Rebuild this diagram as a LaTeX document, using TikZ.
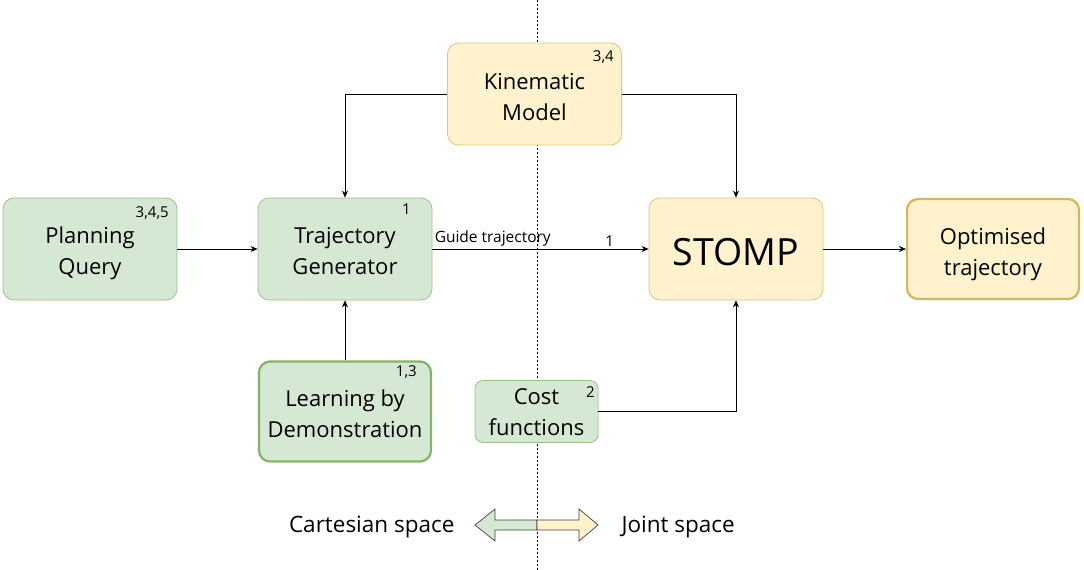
\documentclass[tikz,border=0pt]{standalone}
\usepackage{fontspec}
\setmainfont{Open Sans}
\usetikzlibrary{arrows.meta}
\definecolor{gfill}{HTML}{D5E8D4}
\definecolor{gline}{HTML}{82B366}
\definecolor{yfill}{HTML}{FFF2CC}
\definecolor{yline}{HTML}{D6B656}
\newcommand{\boxtext}[2][-4pt]{\raisebox{#1}[\height][\depth]{\begin{tabular}{@{}c@{}}#2\end{tabular}}}
\tikzset{
  box/.style={draw, rounded corners=11pt, minimum width=174pt, minimum height=102pt, align=center, inner sep=0pt, font=\fontsize{22}{31}\selectfont, line width=0.8pt},
  gbox/.style={box, fill=gfill, draw=gline!80},
  ybox/.style={box, fill=yfill, draw=yline!80},
  tag/.style={font=\fontsize{15}{17}\selectfont, inner sep=0pt},
  conn/.style={draw, line width=0.7pt, -{Stealth[length=7pt,width=6pt]}},
  spacearrow/.style={draw=black!75, line width=0.7pt, line join=miter},
  spacelabel/.style={font=\fontsize{22.5}{26}\selectfont},
}
\begin{document}
\begin{tikzpicture}[x=1pt,y=-1pt]
\useasboundingbox (0,0) rectangle (1084,570);
\draw[dash pattern=on 2pt off 2pt, line width=0.9pt] (537,0) -- (537,570);
\node[gbox] (pq) at (90,249) {\boxtext{Planning\\Query}};
\node[gbox] (tg) at (345,249) {\boxtext{Trajectory\\Generator}};
\node[ybox] (km) at (534.5,94) {\boxtext[-4.5pt]{Kinematic\\Model}};
\node[ybox, font=\fontsize{37.5}{40}\selectfont] (st) at (736,249) {\raisebox{-3pt}[\height][\depth]{STOMP}};
\node[ybox, line width=2.2pt, draw=yline, minimum width=172pt, minimum height=100pt] (ot) at (993,249) {\boxtext[-5pt]{Optimised\\trajectory}};
\node[gbox, line width=2.2pt, draw=gline, minimum width=172pt, minimum height=100pt] (ld) at (345,411.5) {\boxtext{Learning by\\Demonstration}};
\node[gbox, rounded corners=8pt, minimum width=123pt, minimum height=61pt] (cf) at (536.5,411.5) {\boxtext[-2pt]{Cost\\functions}};
\node[tag, anchor=north east] (t1) at (169,206) {3,4,5};
\node[tag, anchor=north east] (t2) at (411,204) {1};
\node[tag, anchor=north east] (t3) at (614,50) {3,4};
\node[tag, anchor=north east] (t4) at (417,365) {1,3};
\node[tag, anchor=north east] (t5) at (595,386) {2};
\draw[conn] (pq) -- (tg);
\draw[conn] (tg) -- node[pos=0, anchor=south west, inner sep=2pt, font=\fontsize{15.5}{17}\selectfont] (gl) {Guide trajectory} node[pos=0.82, anchor=south, inner sep=2pt, font=\fontsize{15}{17}\selectfont] (gn) {1} (st);
\draw[conn] (km.west) -| (tg.north);
\draw[conn] (km.east) -| (st.north);
\draw[conn] (ld) -- (tg);
\draw[conn] (cf.east) -| (st.south);
\draw[conn] (st) -- (ot);
\draw[spacearrow, fill=gfill] (475,525) -- (495,509) -- (495,520) -- (537,520) -- (537,530) -- (495,530) -- (495,541) -- cycle;
\draw[spacearrow, fill=yfill] (598,525) -- (579,509) -- (579,520) -- (537,520) -- (537,530) -- (579,530) -- (579,541) -- cycle;
\node[spacelabel, anchor=east] (cs) at (458,527) {Cartesian space};
\node[spacelabel, anchor=west] (js) at (618,527) {Joint space};
\end{tikzpicture}
\end{document}
